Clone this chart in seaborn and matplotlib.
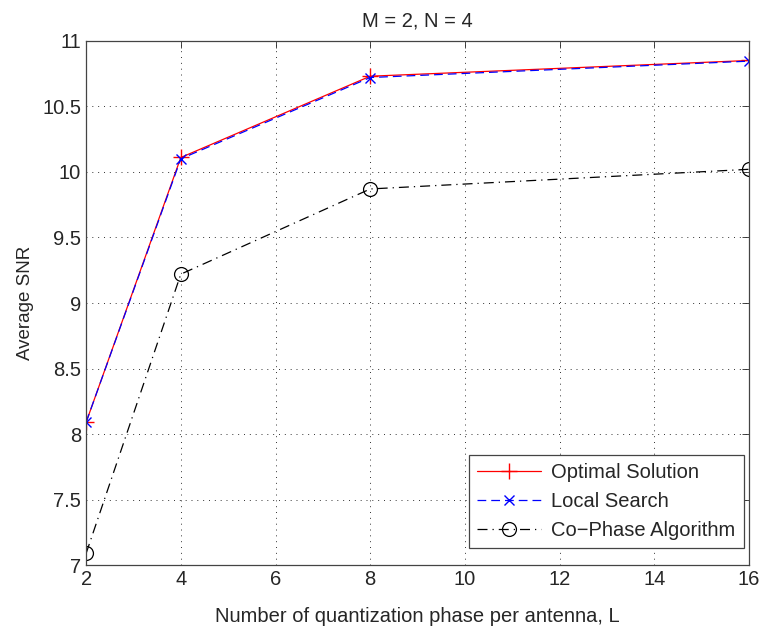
import numpy as np
import pandas as pd
import matplotlib
matplotlib.use("Agg")
import matplotlib.pyplot as plt
import matplotlib.ticker as mticker
import seaborn as sns

# ── data ──
L_values = [2, 4, 8, 16]
optimal = [8.09, 10.11, 10.73, 10.85]
local_search = [8.09, 10.10, 10.72, 10.845]
co_phase = [7.09, 9.22, 9.87, 10.02]

series_names = ["Optimal Solution", "Local Search", "Co\u2212Phase Algorithm"]

sns.set_style("white")
plt.rcParams["font.family"] = ["Liberation Sans", "DejaVu Sans"]
plt.rcParams["font.size"] = 14

fig = plt.figure(figsize=(7.62, 6.28), dpi=100)
ax = fig.add_axes([0.113, 0.100, 0.870, 0.835])

styles = [
    dict(color="#ff0000", linestyle="-", marker="+", markersize=11, mew=1.0),
    dict(color="#0000ff", linestyle=(0, (7, 4)), marker="x", markersize=7, mew=1.0),
    dict(color="black", linestyle=(0, (8, 4, 1, 4)), marker="o", markersize=10,
         mew=0.9, markerfacecolor="none"),
]

for name, vals, st in zip(series_names, [optimal, local_search, co_phase], styles):
    df = pd.DataFrame({"L": L_values, "SNR": vals})
    sns.lineplot(data=df, x="L", y="SNR", ax=ax, label=name, linewidth=0.9,
                 color=st["color"], linestyle=st["linestyle"], marker=st["marker"],
                 markersize=st["markersize"], markeredgewidth=st["mew"],
                 markeredgecolor=st["color"],
                 markerfacecolor=st.get("markerfacecolor", st["color"]))

ax.set_xlim(2, 16)
ax.set_ylim(7, 11)
ax.set_xticks(np.arange(2, 17, 2))
ax.set_yticks(np.arange(7, 11.01, 0.5))
ax.yaxis.set_major_formatter(mticker.FormatStrFormatter("%g"))
ax.grid(True, color="black", linestyle=(0, (1, 5)), linewidth=0.7, alpha=0.8)
ax.tick_params(direction="in", length=5, width=0.6, top=True, right=True,
               labelsize=14.5, pad=3.5)
for sp in ax.spines.values():
    sp.set_color("#444444")
    sp.set_linewidth(0.9)

ax.set_xlabel("Number of quantization phase per antenna, L", fontsize=14.5, labelpad=13)
ax.set_ylabel("Average SNR", fontsize=13.5, labelpad=6)
ax.set_title("M = 2, N = 4", fontsize=14.5, pad=10)

leg = ax.legend(loc="lower right", bbox_to_anchor=(0.992, 0.032), fontsize=14.5,
                borderaxespad=0, frameon=True, fancybox=False, framealpha=1,
                edgecolor="#444444", handlelength=3.2, handletextpad=0.5,
                borderpad=0.4, labelspacing=0.5)
leg.get_frame().set_linewidth(0.9)

plt.savefig("out.png", dpi=100)
